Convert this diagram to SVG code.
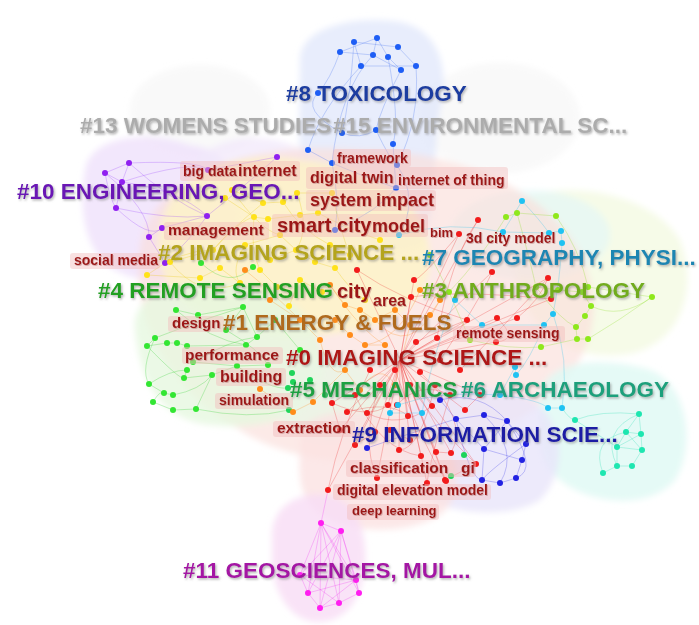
<svg xmlns="http://www.w3.org/2000/svg" width="699" height="625" viewBox="0 0 699 625">
  <defs>
    <filter id="soft" x="-10%" y="-10%" width="120%" height="120%">
      <feGaussianBlur stdDeviation="3"/>
    </filter>
    <filter id="sh" x="-5%" y="-30%" width="110%" height="160%">
      <feDropShadow dx="1.2" dy="1.5" stdDeviation="1" flood-color="#777" flood-opacity="0.55"/>
    </filter>
    <filter id="ksh" x="-5%" y="-30%" width="110%" height="160%">
      <feDropShadow dx="0.8" dy="1" stdDeviation="0.7" flood-color="#a66" flood-opacity="0.45"/>
    </filter>
    <style>
      .lbl { font-family: "Liberation Sans", Arial, sans-serif; font-weight: bold; font-size: 22.5px; filter: url(#sh); }
      .kw { font-family: "Liberation Sans", Arial, sans-serif; font-weight: bold; fill: #9c1818; filter: url(#ksh); }
      .kb { fill: #f2bcbc; opacity: 0.45; }
      .ln { fill: none; stroke-width: 0.8; stroke-opacity: 0.35; }
      circle { stroke: none; }
    </style>
  </defs>

  <rect width="699" height="625" fill="#ffffff"/>

  <!-- cluster hulls -->
  <g id="hulls" filter="url(#soft)">
    <ellipse cx="200" cy="110" rx="70" ry="45" fill="#f3f3f3" opacity="0.5"/>
    <ellipse cx="500" cy="118" rx="80" ry="55" fill="#f4f4f4" opacity="0.5"/>
    <path d="M300 60 C300 25 360 15 400 22 C440 30 450 70 440 110 C432 150 440 200 425 240 C400 260 340 250 315 220 C295 190 300 120 300 60 Z" fill="#e2e9fb" opacity="0.8"/>
    <path d="M85 170 C90 135 150 130 190 145 C240 150 245 200 230 240 C215 285 150 290 115 270 C80 250 80 200 85 170 Z" fill="#f0e3fb" opacity="0.85"/>
    <ellipse cx="255" cy="170" rx="60" ry="32" fill="#f2e8fb" opacity="0.75"/>
    <path d="M520 200 C560 180 650 190 680 240 C700 290 680 350 620 355 C560 360 520 320 515 270 Z" fill="#f5fae4" opacity="0.85"/>
    <ellipse cx="530" cy="235" rx="80" ry="45" fill="#e2f7f8" opacity="0.65"/>
    <path d="M140 250 C150 170 260 140 360 150 C470 150 570 200 590 280 C610 360 540 420 470 440 C400 470 300 470 240 430 C170 390 130 320 140 250 Z" fill="#fbdeda" opacity="0.65"/>
    <path d="M160 230 C170 170 240 150 300 160 C370 165 430 200 430 260 C430 320 350 340 280 335 C200 330 150 290 160 230 Z" fill="#fdf6c4" opacity="0.75"/>
    <path d="M135 330 C130 290 190 275 240 285 C300 295 330 330 320 380 C310 420 260 430 210 425 C160 420 140 380 135 330 Z" fill="#e6f8e0" opacity="0.8"/>
    <ellipse cx="330" cy="400" rx="55" ry="40" fill="#e8f7e6" opacity="0.75"/>
    <path d="M540 400 C540 360 600 355 650 370 C690 385 695 450 675 480 C650 510 590 505 560 480 C535 460 540 430 540 400 Z" fill="#e0f9f4" opacity="0.85"/>
    <path d="M405 420 C410 385 470 380 520 395 C565 410 570 470 540 500 C510 520 440 515 415 490 C395 465 400 440 405 420 Z" fill="#e8e5fa" opacity="0.8"/>
    <path d="M300 440 C300 410 360 405 410 420 C460 440 470 490 440 515 C410 535 340 535 315 510 C295 490 300 465 300 440 Z" fill="#fbe2e2" opacity="0.8"/>
    <path d="M272 540 C270 505 300 492 325 495 C355 498 368 530 365 565 C362 600 345 622 318 622 C290 622 272 590 272 560 Z" fill="#f8def6" opacity="0.85"/>
  </g>

  <!-- connectors -->
  <g id="links">
    <path class="ln" stroke="#3d6ef0" d="M340 52 L377 38 M340 52 L373 55 M354 42 L398 47 M377 38 L388 57 M373 55 L401 70 M361 66 L416 66 M398 47 L416 66 M354 42 L361 66 M377 38 L373 55 M388 57 L401 70 M340 52 Q330 80 318 93 M361 66 Q320 110 308 150 M388 57 Q400 120 393 144 M401 70 Q380 110 376 130 M342 133 Q360 140 376 130 M308 150 L332 163 M376 130 Q390 160 397 165 M393 144 L396 188 M332 163 Q360 175 396 188 M342 133 Q300 110 318 93 M354 42 Q350 100 342 133 M416 66 Q420 120 397 165 M373 55 Q340 90 332 163 M396 188 Q380 210 335 230 M332 163 Q340 200 335 230 M397 165 Q420 200 399 235"/>
    <path class="ln" stroke="#9a40ff" d="M129 163 L105 173 M129 163 L122 182 M105 173 L122 182 M122 182 L116 208 M105 173 Q110 200 116 208 M129 163 Q200 160 208 170 M122 182 Q180 190 207 216 M116 208 Q170 220 207 216 M207 216 L162 228 M162 228 L149 237 M149 237 L165 263 M208 170 L277 157 M207 216 Q240 190 277 157 M116 208 Q150 240 162 228 M129 163 Q170 200 207 216 M105 173 Q150 210 149 237 M122 182 Q190 160 208 170 M165 263 Q190 240 207 216"/>
    <path class="ln" stroke="#e8c800" d="M232 190 L263 203 M263 203 L283 202 M283 202 L297 193 M297 193 L332 193 M254 217 L268 219 M225 198 L254 217 M268 219 L300 215 M300 215 L318 213 M280 235 L296 250 M296 250 L315 262 M315 262 L335 268 M260 270 L277 287 M220 268 L240 283 M200 278 L220 268 M170 262 L213 250 M147 275 L200 278 M245 245 L280 235 M330 245 L350 255 M270 260 L296 250 M300 280 L322 292 M289 306 L300 280 M232 190 Q260 230 280 235 M283 202 Q300 230 330 245 M254 217 Q250 250 260 270 M213 250 Q240 220 254 217 M297 193 Q310 230 296 250 M332 193 Q340 230 350 255 M318 213 Q350 230 380 240 M245 245 Q230 270 240 283 M335 268 Q350 290 365 300 M263 203 Q230 230 213 250 M147 275 Q180 250 213 250 M170 262 Q200 300 240 283"/>
    <path class="ln" stroke="#28d028" d="M201 263 Q230 290 253 267 M176 310 L198 315 M198 315 L243 307 M243 307 L257 337 M155 338 L147 346 M147 346 L167 343 M167 343 L177 343 M177 343 L187 346 M187 346 L246 345 M246 345 L257 337 M193 362 L237 366 M237 366 L268 365 M187 370 L184 378 M184 378 L212 375 M212 375 L237 366 M149 384 L164 393 M164 393 L173 395 M153 402 L173 410 M173 410 L196 409 M196 409 L212 375 M155 338 Q200 320 243 307 M147 346 Q180 380 184 378 M149 384 Q170 370 187 370 M153 402 Q160 390 164 393 M173 395 Q200 390 212 375 M176 310 Q210 340 246 345 M226 330 L243 307 M226 330 Q260 350 268 365 M275 320 L300 350 M257 337 L275 320 M193 362 Q230 340 257 337 M155 338 Q140 370 149 384 M196 409 Q250 420 289 410 M237 366 Q270 390 288 388"/>
    <path class="ln" stroke="#ff8a1a" d="M330 285 L345 305 M345 305 L360 310 M360 310 L375 320 M375 320 L395 310 M395 310 L410 325 M350 335 L365 345 M365 345 L385 345 M430 315 L440 300 M440 300 L420 290 M335 320 L350 335 M345 370 L360 390 M300 320 L320 340 M270 300 L300 320 M260 389 L293 412 M293 412 L313 402 M313 402 L345 370 M395 385 L410 325 M330 285 Q360 330 385 345 M420 290 Q400 340 365 345 M245 270 Q270 290 300 320 M320 340 Q330 380 345 370 M360 390 Q380 360 395 385 M375 320 Q410 360 440 300"/>
    <path class="ln" stroke="#ee2a2a" d="M400 360 L357 270 M400 360 L414 280 M400 360 L411 297 M400 360 L492 272 M400 360 L478 220 M400 360 L459 234 M400 360 L497 318 M400 360 L517 318 M400 360 L467 320 M400 360 L437 338 M400 360 L416 342 M400 360 L496 342 M400 360 L332 403 M400 360 L347 412 M400 360 L367 413 M400 360 L388 405 M400 360 L408 416 M400 360 L432 406 M400 360 L399 450 M400 360 L421 456 M400 360 L436 452 M400 360 L451 453 M400 360 L476 464 M400 360 L446 481 M400 360 L377 478 M400 360 L427 483 M400 360 L445 480 M400 360 L355 445 M400 360 L340 430 M400 360 L375 432 M400 360 L410 440 M400 360 L465 410 M400 360 L480 395 M400 360 L548 278 M400 360 L551 299 M400 360 L328 490 M370 370 Q340 430 328 490 M380 385 Q360 440 377 478 M395 370 Q420 440 446 481 M410 385 Q440 430 476 464 M420 372 Q470 420 451 453 M435 385 Q420 450 399 450 M450 395 Q430 460 427 483 M355 395 Q380 450 421 456 M460 370 Q500 330 548 278 M440 360 Q480 300 492 272 M478 220 Q450 260 437 338 M459 234 Q420 280 414 280 M357 270 Q400 300 467 320 M411 297 Q460 290 551 299 M497 318 Q520 340 496 342 M517 318 Q540 300 548 278 M416 342 Q440 330 467 320 M332 403 Q370 420 388 405 M347 412 Q390 400 408 416 M367 413 Q400 430 432 406 M397 405 Q420 380 450 395 M390 430 L410 440 M375 432 L355 445 M340 430 L332 403 M465 410 L480 395 M436 452 L451 453 M445 480 L476 464"/>
    <path class="ln" stroke="#22c0ee" d="M522 201 L503 232 M503 232 L549 233 M549 233 L561 231 M561 231 L562 243 M522 201 Q540 220 549 233 M399 235 Q450 220 503 232 M553 314 L544 325 M482 325 L544 325 M515 367 L516 375 M548 408 L562 408 M398 405 L390 413 M390 413 L422 413 M455 300 L482 325 M500 395 L515 367 M544 325 Q530 360 516 375 M553 314 Q570 360 562 408 M562 243 Q560 280 553 314 M455 300 Q430 360 422 413 M500 395 Q540 400 548 408 M398 405 Q440 390 500 395"/>
    <path class="ln" stroke="#86e01a" d="M506 217 L517 213 M517 213 L556 216 M449 292 L470 340 M536 287 L558 290 M558 290 L582 292 M582 292 L588 287 M588 287 L652 297 M591 306 L585 316 M585 316 L576 327 M576 327 L577 339 M577 339 L588 339 M541 347 L577 339 M430 255 L449 292 M556 216 Q580 250 588 287 M506 217 Q480 260 449 292 M536 287 Q560 320 576 327 M652 297 Q620 320 591 306 M582 292 L591 306 M470 340 Q510 350 541 347 M517 213 Q530 260 536 287 M588 339 Q620 320 652 297"/>
    <path class="ln" stroke="#1ee0b0" d="M639 414 L626 432 M639 414 L641 434 M626 432 L641 434 M626 432 L617 447 M641 434 L642 450 M617 447 L642 450 M617 447 L617 466 M642 450 L632 466 M617 466 L632 466 M617 466 L603 473 M626 432 L642 450 M641 434 L617 447 M639 414 Q600 430 617 466 M575 420 L617 447 M575 420 Q600 410 639 414 M603 473 Q590 440 626 432 M562 408 Q570 420 575 420"/>
    <path class="ln" stroke="#3434e8" d="M484 415 L456 419 M484 415 L507 421 M507 421 L526 444 M526 444 L522 460 M522 460 L516 478 M516 478 L500 483 M500 483 L482 480 M484 449 L482 480 M456 419 L484 449 M484 449 L522 460 M507 421 L484 449 M440 400 L456 419 M367 448 Q420 430 456 419 M484 415 Q520 450 500 483 M456 419 Q470 480 482 480 M507 421 Q540 470 516 478 M526 444 Q490 470 482 480 M440 400 Q480 390 507 421"/>
    <path class="ln" stroke="#f030f0" d="M321 523 L341 531 M321 523 L308 593 M321 523 L320 608 M321 523 L339 603 M321 523 L359 593 M321 523 L356 580 M321 523 L300 575 M341 531 L308 593 M341 531 L320 608 M341 531 L339 603 M341 531 L359 593 M341 531 L356 580 M341 531 L300 575 M308 593 L320 608 M320 608 L339 603 M339 603 L359 593 M359 593 L356 580 M300 575 L308 593 M300 575 L356 580 M308 593 L356 580 M300 575 L339 603 M320 608 L356 580 M328 490 L321 523"/>
  </g>

  <!-- cluster nodes -->
  <g id="node-8" fill="#1e5ef5">
    <circle cx="340" cy="52" r="3"/><circle cx="354" cy="42" r="3"/><circle cx="377" cy="38" r="3"/><circle cx="398" cy="47" r="3"/><circle cx="373" cy="55" r="3"/><circle cx="388" cy="57" r="3"/><circle cx="361" cy="66" r="3"/><circle cx="401" cy="70" r="3"/><circle cx="416" cy="66" r="3"/><circle cx="318" cy="93" r="3"/><circle cx="376" cy="130" r="3"/><circle cx="342" cy="133" r="3"/><circle cx="393" cy="144" r="3"/><circle cx="308" cy="150" r="3"/><circle cx="332" cy="163" r="3"/><circle cx="397" cy="165" r="3"/><circle cx="396" cy="188" r="3"/><circle cx="335" cy="230" r="3"/>
  </g>
  <g id="node-10" fill="#9020f0">
    <circle cx="129" cy="163" r="3"/><circle cx="105" cy="173" r="3"/><circle cx="122" cy="182" r="3"/><circle cx="116" cy="208" r="3"/><circle cx="277" cy="157" r="3"/><circle cx="208" cy="170" r="3"/><circle cx="207" cy="216" r="3"/><circle cx="162" cy="228" r="3"/><circle cx="149" cy="237" r="3"/><circle cx="165" cy="263" r="3"/>
  </g>
  <g id="node-2" fill="#ffe21a">
    <circle cx="232" cy="190" r="3"/><circle cx="263" cy="203" r="3"/><circle cx="283" cy="202" r="3"/><circle cx="297" cy="193" r="3"/><circle cx="332" cy="193" r="3"/><circle cx="254" cy="217" r="3"/><circle cx="268" cy="219" r="3"/><circle cx="147" cy="275" r="3"/><circle cx="170" cy="262" r="3"/><circle cx="225" cy="198" r="3"/><circle cx="300" cy="215" r="3"/><circle cx="318" cy="213" r="3"/><circle cx="280" cy="235" r="3"/><circle cx="296" cy="250" r="3"/><circle cx="315" cy="262" r="3"/><circle cx="335" cy="268" r="3"/><circle cx="260" cy="270" r="3"/><circle cx="220" cy="268" r="3"/><circle cx="200" cy="278" r="3"/><circle cx="240" cy="283" r="3"/><circle cx="277" cy="287" r="3"/><circle cx="300" cy="280" r="3"/><circle cx="322" cy="292" r="3"/><circle cx="289" cy="306" r="3"/><circle cx="245" cy="245" r="3"/><circle cx="330" cy="245" r="3"/><circle cx="350" cy="255" r="3"/><circle cx="365" cy="300" r="3"/><circle cx="380" cy="240" r="3"/><circle cx="213" cy="250" r="3"/><circle cx="270" cy="260" r="3"/>
  </g>
  <g id="node-4" fill="#33e633">
    <circle cx="201" cy="263" r="3"/><circle cx="253" cy="267" r="3"/><circle cx="176" cy="310" r="3"/><circle cx="198" cy="315" r="3"/><circle cx="243" cy="307" r="3"/><circle cx="257" cy="337" r="3"/><circle cx="155" cy="338" r="3"/><circle cx="147" cy="346" r="3"/><circle cx="167" cy="343" r="3"/><circle cx="177" cy="343" r="3"/><circle cx="187" cy="346" r="3"/><circle cx="246" cy="345" r="3"/><circle cx="193" cy="362" r="3"/><circle cx="237" cy="366" r="3"/><circle cx="268" cy="365" r="3"/><circle cx="187" cy="370" r="3"/><circle cx="184" cy="378" r="3"/><circle cx="212" cy="375" r="3"/><circle cx="149" cy="384" r="3"/><circle cx="164" cy="393" r="3"/><circle cx="173" cy="395" r="3"/><circle cx="153" cy="402" r="3"/><circle cx="173" cy="410" r="3"/><circle cx="196" cy="409" r="3"/><circle cx="226" cy="330" r="3"/><circle cx="275" cy="320" r="3"/><circle cx="300" cy="350" r="3"/>
  </g>
  <g id="node-5" fill="#1fd45a">
    <circle cx="292" cy="373" r="3"/><circle cx="293" cy="382" r="3"/><circle cx="288" cy="388" r="3"/><circle cx="289" cy="410" r="3"/><circle cx="464" cy="455" r="3"/><circle cx="451" cy="476" r="3"/><circle cx="310" cy="380" r="3"/><circle cx="325" cy="395" r="3"/>
  </g>
  <g id="node-1" fill="#ff8c1a">
    <circle cx="245" cy="270" r="3"/><circle cx="260" cy="389" r="3"/><circle cx="293" cy="412" r="3"/><circle cx="313" cy="402" r="3"/><circle cx="330" cy="285" r="3"/><circle cx="345" cy="305" r="3"/><circle cx="360" cy="310" r="3"/><circle cx="375" cy="320" r="3"/><circle cx="395" cy="310" r="3"/><circle cx="410" cy="325" r="3"/><circle cx="350" cy="335" r="3"/><circle cx="365" cy="345" r="3"/><circle cx="385" cy="345" r="3"/><circle cx="430" cy="315" r="3"/><circle cx="440" cy="300" r="3"/><circle cx="420" cy="290" r="3"/><circle cx="335" cy="320" r="3"/><circle cx="345" cy="370" r="3"/><circle cx="360" cy="390" r="3"/><circle cx="300" cy="320" r="3"/><circle cx="320" cy="340" r="3"/><circle cx="270" cy="300" r="3"/><circle cx="395" cy="385" r="3"/>
  </g>
  <g id="node-0" fill="#f21c1c">
    <circle cx="478" cy="220" r="3"/><circle cx="459" cy="234" r="3"/><circle cx="357" cy="270" r="3"/><circle cx="414" cy="280" r="3"/><circle cx="411" cy="297" r="3"/><circle cx="492" cy="272" r="3"/><circle cx="548" cy="278" r="3"/><circle cx="551" cy="299" r="3"/><circle cx="497" cy="318" r="3"/><circle cx="517" cy="318" r="3"/><circle cx="467" cy="320" r="3"/><circle cx="437" cy="338" r="3"/><circle cx="416" cy="342" r="3"/><circle cx="496" cy="342" r="3"/><circle cx="332" cy="403" r="3"/><circle cx="347" cy="412" r="3"/><circle cx="367" cy="413" r="3"/><circle cx="388" cy="405" r="3"/><circle cx="397" cy="405" r="3"/><circle cx="408" cy="416" r="3"/><circle cx="432" cy="406" r="3"/><circle cx="399" cy="450" r="3"/><circle cx="421" cy="456" r="3"/><circle cx="436" cy="452" r="3"/><circle cx="451" cy="453" r="3"/><circle cx="476" cy="464" r="3"/><circle cx="446" cy="481" r="3"/><circle cx="328" cy="490" r="3"/><circle cx="377" cy="478" r="3"/><circle cx="427" cy="483" r="3"/><circle cx="445" cy="480" r="3"/><circle cx="370" cy="370" r="3"/><circle cx="380" cy="385" r="3"/><circle cx="395" cy="370" r="3"/><circle cx="410" cy="385" r="3"/><circle cx="420" cy="372" r="3"/><circle cx="435" cy="385" r="3"/><circle cx="450" cy="395" r="3"/><circle cx="355" cy="395" r="3"/><circle cx="375" cy="432" r="3"/><circle cx="390" cy="430" r="3"/><circle cx="410" cy="440" r="3"/><circle cx="465" cy="410" r="3"/><circle cx="480" cy="395" r="3"/><circle cx="460" cy="370" r="3"/><circle cx="440" cy="360" r="3"/><circle cx="355" cy="445" r="3"/><circle cx="340" cy="430" r="3"/>
  </g>
  <g id="node-7" fill="#1fc2f2">
    <circle cx="522" cy="201" r="3"/><circle cx="503" cy="232" r="3"/><circle cx="549" cy="233" r="3"/><circle cx="561" cy="231" r="3"/><circle cx="562" cy="243" r="3"/><circle cx="553" cy="314" r="3"/><circle cx="482" cy="325" r="3"/><circle cx="544" cy="325" r="3"/><circle cx="515" cy="367" r="3"/><circle cx="516" cy="375" r="3"/><circle cx="548" cy="408" r="3"/><circle cx="562" cy="408" r="3"/><circle cx="398" cy="405" r="3"/><circle cx="390" cy="413" r="3"/><circle cx="422" cy="413" r="3"/><circle cx="399" cy="235" r="3"/><circle cx="455" cy="300" r="3"/><circle cx="500" cy="395" r="3"/>
  </g>
  <g id="node-3" fill="#8fe81c">
    <circle cx="506" cy="217" r="3"/><circle cx="517" cy="213" r="3"/><circle cx="556" cy="216" r="3"/><circle cx="449" cy="292" r="3"/><circle cx="536" cy="287" r="3"/><circle cx="558" cy="290" r="3"/><circle cx="582" cy="292" r="3"/><circle cx="588" cy="287" r="3"/><circle cx="652" cy="297" r="3"/><circle cx="591" cy="306" r="3"/><circle cx="585" cy="316" r="3"/><circle cx="576" cy="327" r="3"/><circle cx="577" cy="339" r="3"/><circle cx="588" cy="339" r="3"/><circle cx="541" cy="347" r="3"/><circle cx="470" cy="340" r="3"/><circle cx="430" cy="255" r="3"/>
  </g>
  <g id="node-6" fill="#1ee6b0">
    <circle cx="639" cy="414" r="3"/><circle cx="626" cy="432" r="3"/><circle cx="641" cy="434" r="3"/><circle cx="617" cy="447" r="3"/><circle cx="642" cy="450" r="3"/><circle cx="617" cy="466" r="3"/><circle cx="632" cy="466" r="3"/><circle cx="603" cy="473" r="3"/><circle cx="575" cy="420" r="3"/>
  </g>
  <g id="node-9" fill="#2222e2">
    <circle cx="484" cy="415" r="3"/><circle cx="456" cy="419" r="3"/><circle cx="507" cy="421" r="3"/><circle cx="526" cy="444" r="3"/><circle cx="367" cy="448" r="3"/><circle cx="484" cy="449" r="3"/><circle cx="522" cy="460" r="3"/><circle cx="482" cy="480" r="3"/><circle cx="500" cy="483" r="3"/><circle cx="516" cy="478" r="3"/><circle cx="440" cy="400" r="3"/>
  </g>
  <g id="node-11" fill="#ff1ef0">
    <circle cx="321" cy="523" r="3"/><circle cx="341" cy="531" r="3"/><circle cx="308" cy="593" r="3"/><circle cx="320" cy="608" r="3"/><circle cx="339" cy="603" r="3"/><circle cx="359" cy="593" r="3"/><circle cx="356" cy="580" r="3"/><circle cx="300" cy="575" r="3"/>
  </g>

  <!-- keyword labels -->
  <g id="keywords">
    <rect class="kb" x="333" y="149" width="78" height="18" rx="3"/>
    <rect class="kb" x="180" y="161" width="120" height="20" rx="3"/>
    <rect class="kb" x="306" y="167" width="202" height="22" rx="3"/>
    <rect class="kb" x="306" y="190" width="130" height="21" rx="3"/>
    <rect class="kb" x="272" y="214" width="156" height="23" rx="3"/>
    <rect class="kb" x="164" y="222" width="105" height="18" rx="3"/>
    <rect class="kb" x="70" y="253" width="90" height="16" rx="3"/>
    <rect class="kb" x="168" y="316" width="56" height="16" rx="3"/>
    <rect class="kb" x="453" y="326" width="112" height="16" rx="3"/>
    <rect class="kb" x="182" y="347" width="101" height="17" rx="3"/>
    <rect class="kb" x="216" y="368" width="70" height="18" rx="3"/>
    <rect class="kb" x="215" y="393" width="78" height="16" rx="3"/>
    <rect class="kb" x="273" y="421" width="82" height="16" rx="3"/>
    <rect class="kb" x="346" y="460" width="130" height="17" rx="3"/>
    <rect class="kb" x="333" y="484" width="158" height="16" rx="3"/>
    <rect class="kb" x="347" y="504" width="92" height="16" rx="3"/>

    <text class="kw" x="337" y="163" font-size="14">framework</text>
    <text class="kw" x="183" y="176" font-size="14">big data</text>
    <text class="kw" x="238" y="176" font-size="16">internet</text>
    <text class="kw" x="310" y="183" font-size="16">digital twin</text>
    <text class="kw" x="398" y="185" font-size="14">internet of thing</text>
    <text class="kw" x="310" y="206" font-size="18">system</text>
    <text class="kw" x="376" y="206" font-size="18">impact</text>
    <text class="kw" x="277" y="232" font-size="20">smart city</text>
    <text class="kw" x="372" y="232" font-size="18">model</text>
    <text class="kw" x="430" y="237" font-size="13">bim</text>
    <text class="kw" x="168" y="235" font-size="15.5">management</text>
    <text class="kw" x="466" y="243" font-size="14">3d city model</text>
    <text class="kw" x="74" y="265" font-size="14">social media</text>
    <text class="kw" x="337" y="298" font-size="20">city</text>
    <text class="kw" x="373" y="306" font-size="16">area</text>
    <text class="kw" x="172" y="328" font-size="15">design</text>
    <text class="kw" x="456" y="338" font-size="14">remote sensing</text>
    <text class="kw" x="185" y="360" font-size="15.5">performance</text>
    <text class="kw" x="220" y="382" font-size="16">building</text>
    <text class="kw" x="219" y="405" font-size="14">simulation</text>
    <text class="kw" x="277" y="433" font-size="15.5">extraction</text>
    <text class="kw" x="350" y="473" font-size="15.5">classification</text>
    <text class="kw" x="461" y="473" font-size="15.5">gi</text>
    <text class="kw" x="337" y="495" font-size="14">digital elevation model</text>
    <text class="kw" x="352" y="515" font-size="13">deep learning</text>
  </g>

  <!-- cluster labels -->
  <g id="cluster-labels">
    <text id="label-8" class="lbl" x="286" y="101" fill="#1c3ea0">#8 TOXICOLOGY</text>
    <text id="label-13" class="lbl" x="80" y="133" fill="#acacac">#13 WOMENS STUDIES</text>
    <text id="label-15" class="lbl" x="333" y="133" fill="#acacac">#15 ENVIRONMENTAL SC...</text>
    <text id="label-10" class="lbl" x="17" y="199" fill="#6a14b4">#10 ENGINEERING, GEO...</text>
    <text id="label-2" class="lbl" x="158" y="260" fill="#b4a41c">#2 IMAGING SCIENCE ...</text>
    <text id="label-7" class="lbl" x="422" y="265" fill="#1f86b2">#7 GEOGRAPHY, PHYSI...</text>
    <text id="label-4" class="lbl" x="98" y="298" fill="#22a022">#4 REMOTE SENSING</text>
    <text id="label-3" class="lbl" x="422" y="298" fill="#72ac1e">#3 ANTHROPOLOGY</text>
    <text id="label-1" class="lbl" x="223" y="330" fill="#b06a1a">#1 ENERGY &amp; FUELS</text>
    <text id="label-0" class="lbl" x="286" y="365" fill="#ae1616">#0 IMAGING SCIENCE ...</text>
    <text id="label-5" class="lbl" x="290" y="397" fill="#1fa042">#5 MECHANICS</text>
    <text id="label-6" class="lbl" x="461" y="397" fill="#1ca07c">#6 ARCHAEOLOGY</text>
    <text id="label-9" class="lbl" x="352" y="442" fill="#1c1ca4">#9 INFORMATION SCIE...</text>
    <text id="label-11" class="lbl" x="183" y="578" fill="#a416a4">#11 GEOSCIENCES, MUL...</text>
  </g>
</svg>
